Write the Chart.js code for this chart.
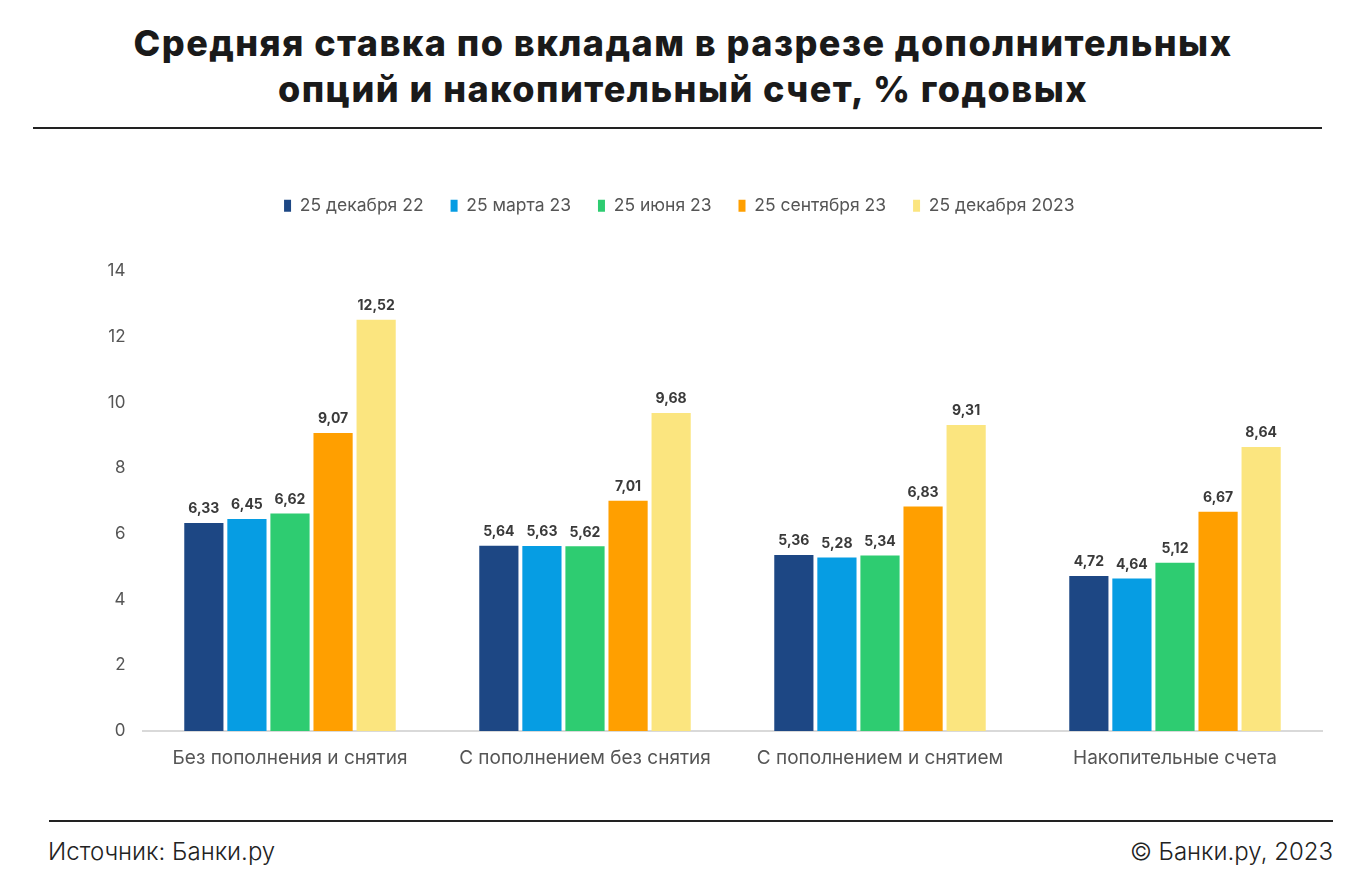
<!DOCTYPE html>
<html><head><meta charset="utf-8">
<script src="https://cdn.jsdelivr.net/npm/chart.js@4.4.0/dist/chart.umd.min.js"></script>
<style>
html,body{margin:0;padding:0;background:#fff;width:1366px;height:886px;overflow:hidden;font-family:Inter,"Noto Sans",sans-serif;}
#title{position:absolute;left:0;width:1366px;top:20px;text-align:center;font-weight:800;font-size:36px;line-height:46px;color:#1a1a1a;letter-spacing:1.45px;}
#rule1{position:absolute;left:33px;width:1289px;top:127px;height:2px;background:#222;}
#rule2{position:absolute;left:49px;width:1284px;top:820px;height:2px;background:#222;}
#src{position:absolute;left:48px;top:837px;font-size:24px;font-weight:300;color:#222;}
#copy{position:absolute;right:33px;top:837px;font-size:24px;font-weight:300;color:#222;}
#wrap{position:absolute;left:0;top:168px;width:1366px;height:623px;}
</style></head>
<body>
<div id="title">Средняя ставка по вкладам в разрезе дополнительных<br>опций и накопительный счет, % годовых</div>
<div id="rule1"></div>
<div id="wrap"><canvas id="c"></canvas></div>
<div id="rule2"></div>
<div id="src">Источник: Банки.ру</div>
<div id="copy">© Банки.ру, 2023</div>
<script>
const categories = ["Без пополнения и снятия","С пополнением без снятия","С пополнением и снятием","Накопительные счета"];
const seriesNames = ["25 декабря 22","25 марта 23","25 июня 23","25 сентября 23","25 декабря 2023"];
const dec22 = [6.33, 5.64, 5.36, 4.72];
const mar23 = [6.45, 5.63, 5.28, 4.64];
const jun23 = [6.62, 5.62, 5.34, 5.12];
const sep23 = [9.07, 7.01, 6.83, 6.67];
const dec23 = [12.52, 9.68, 9.31, 8.64];
const colors = ["#1d4784","#069de3","#2ecc71","#ff9f00","#fbe57f"];
const yTicks = [0,2,4,6,8,10,12,14];

const seriesValues = [dec22, mar23, jun23, sep23, dec23];
const datasets = seriesValues.map((d,i)=>({label:seriesNames[i],data:d,backgroundColor:colors[i],borderWidth:0,barPercentage:0.91,categoryPercentage:0.73}));

const legendFit = {id:'legendFit',
 beforeInit(chart){const f=chart.legend.fit;chart.legend.fit=function(){f.bind(chart.legend)();this.height=103;};},
 afterLayout(chart){const l=chart.legend;l.left+=18;l.right+=18;l.top+=2;l.bottom+=2;}};
const valueLabels = {id:'valueLabels',afterDatasetsDraw(chart){const ctx=chart.ctx;ctx.save();ctx.font='bold 14px Inter, "Noto Sans", sans-serif';ctx.fillStyle='#3a3a3a';ctx.textAlign='center';ctx.textBaseline='bottom';
chart.data.datasets.forEach((ds,i)=>{chart.getDatasetMeta(i).data.forEach((bar,j)=>{ctx.fillText(ds.data[j].toFixed(2).replace('.',','),bar.x,bar.y-7);});});ctx.restore();}};

new Chart(document.getElementById('c'),{
 type:'bar',
 data:{labels:categories,datasets},
 options:{responsive:true,maintainAspectRatio:false,animation:false,
  layout:{padding:{left:0,right:43.5,top:0,bottom:0}},
  plugins:{tooltip:{enabled:false},
   legend:{position:'top',align:'center',labels:{boxWidth:7,boxHeight:12,padding:27,color:'#555',font:{family:'Inter, "Noto Sans", sans-serif',size:17.5}}}},
  scales:{
   x:{grid:{display:false,drawTicks:false},border:{display:true,color:'#d9d9d9',width:2},
      ticks:{color:'#555',padding:16,font:{family:'Inter, "Noto Sans", sans-serif',size:19}},
      afterFit(s){s.height=60;}},
   y:{min:0,max:14,afterBuildTicks(s){s.ticks=yTicks.map(v=>({value:v}));},
      grid:{display:false,drawTicks:false},border:{display:false},
      ticks:{color:'#555',padding:17,font:{family:'Inter, "Noto Sans", sans-serif',size:17}},
      afterFit(s){s.width=142.5;}}
  }},
 plugins:[legendFit,valueLabels]
});
</script>
</body></html>
